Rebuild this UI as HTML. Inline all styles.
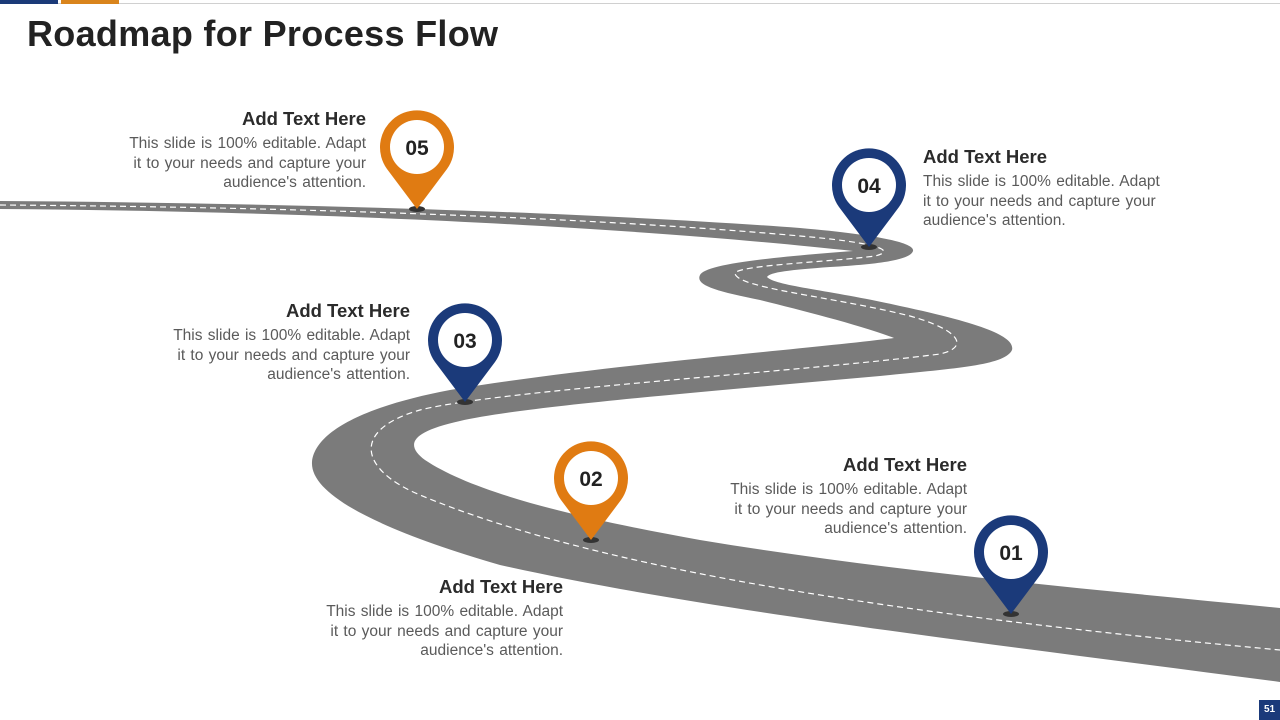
<!DOCTYPE html>
<html><head><meta charset="utf-8"><style>
body{margin:0;width:1280px;height:720px;overflow:hidden;background:#fff;font-family:"Liberation Sans",sans-serif;position:relative}
.t{position:absolute;width:245px}
.t h3{margin:0;font-size:18.5px;font-weight:bold;color:#2b2b2b;line-height:22px}
.t p{margin:4px 0 0;font-size:15.5px;word-spacing:1px;color:#5a5a5a;line-height:19.5px}
.r{text-align:right}
</style></head><body>
<div style="position:absolute;left:0;top:3px;width:1280px;height:1px;background:#d0d0d0"></div>
<div style="position:absolute;left:0;top:0;width:58px;height:4px;background:#1b3a78"></div>
<div style="position:absolute;left:61px;top:0;width:58px;height:4px;background:#d9841c"></div>
<div style="position:absolute;left:27px;top:13px;font-size:36px;font-weight:bold;color:#222;letter-spacing:0.3px">Roadmap for Process Flow</div>
<svg width="1280" height="720" style="position:absolute;left:0;top:0">
<path fill="#7b7b7b" d="M0,201 C300,203 600,213 800,228 C880,235 915,243 913,251 C910,260 880,264 830,267 C790,270 770,272 767,277 C775,286 830,290 900,306 C990,325 1015,338 1012,350 C1005,365 960,368 880,376 C700,392 520,407 460,421 C410,432 405,445 425,460 C470,490 560,515 700,540 C900,573 1100,590 1280,608 L1280,682 C1000,645 700,610 500,565 C380,530 310,495 312,462 C315,430 370,405 450,390 C600,365 800,350 894,338 C860,325 800,310 760,300 C715,291 695,285 700,275 C705,265 760,258 853,251 C700,234 400,212 0,209 Z"/>
<path fill="none" stroke="#fff" stroke-width="1.2" stroke-dasharray="6 4" d="M0,205 C300,207 600,218 800,236 C870,242 900,250 875,256 C830,262 740,265 735,273 C735,288 830,296 910,316 C960,330 970,347 940,354 C800,372 500,390 420,410 C350,430 360,470 420,495 C600,570 900,615 1280,650"/>
<g transform="translate(417,147)"><ellipse cx="0" cy="62" rx="8" ry="3" fill="#333"/><path d="M0,62 L-30,22 A37,37 0 1 1 30,22 Z" fill="#e07b12"/><circle r="27" fill="#fff"/><text y="8" text-anchor="middle" font-size="21" font-weight="bold" fill="#222" font-family="Liberation Sans,sans-serif">05</text></g>
<g transform="translate(869,185)"><ellipse cx="0" cy="62" rx="8" ry="3" fill="#333"/><path d="M0,62 L-30,22 A37,37 0 1 1 30,22 Z" fill="#1b3a7a"/><circle r="27" fill="#fff"/><text y="8" text-anchor="middle" font-size="21" font-weight="bold" fill="#222" font-family="Liberation Sans,sans-serif">04</text></g>
<g transform="translate(465,340)"><ellipse cx="0" cy="62" rx="8" ry="3" fill="#333"/><path d="M0,62 L-30,22 A37,37 0 1 1 30,22 Z" fill="#1b3a7a"/><circle r="27" fill="#fff"/><text y="8" text-anchor="middle" font-size="21" font-weight="bold" fill="#222" font-family="Liberation Sans,sans-serif">03</text></g>
<g transform="translate(591,478)"><ellipse cx="0" cy="62" rx="8" ry="3" fill="#333"/><path d="M0,62 L-30,22 A37,37 0 1 1 30,22 Z" fill="#e07b12"/><circle r="27" fill="#fff"/><text y="8" text-anchor="middle" font-size="21" font-weight="bold" fill="#222" font-family="Liberation Sans,sans-serif">02</text></g>
<g transform="translate(1011,552)"><ellipse cx="0" cy="62" rx="8" ry="3" fill="#333"/><path d="M0,62 L-30,22 A37,37 0 1 1 30,22 Z" fill="#1b3a7a"/><circle r="27" fill="#fff"/><text y="8" text-anchor="middle" font-size="21" font-weight="bold" fill="#222" font-family="Liberation Sans,sans-serif">01</text></g>
</svg>
<div class="t r" style="left:121px;top:108px"><h3>Add Text Here</h3><p>This slide is 100% editable. Adapt it to your needs and capture your audience's attention.</p></div>
<div class="t" style="left:923px;top:146px"><h3>Add Text Here</h3><p>This slide is 100% editable. Adapt it to your needs and capture your audience's attention.</p></div>
<div class="t r" style="left:165px;top:300px"><h3>Add Text Here</h3><p>This slide is 100% editable. Adapt it to your needs and capture your audience's attention.</p></div>
<div class="t r" style="left:722px;top:454px"><h3>Add Text Here</h3><p>This slide is 100% editable. Adapt it to your needs and capture your audience's attention.</p></div>
<div class="t r" style="left:318px;top:576px"><h3>Add Text Here</h3><p>This slide is 100% editable. Adapt it to your needs and capture your audience's attention.</p></div>
<div style="position:absolute;left:1259px;top:700px;width:21px;height:20px;background:#1b3a7a;color:#fff;font-size:10px;font-weight:bold;text-align:center;line-height:20px">51</div>
</body></html>
